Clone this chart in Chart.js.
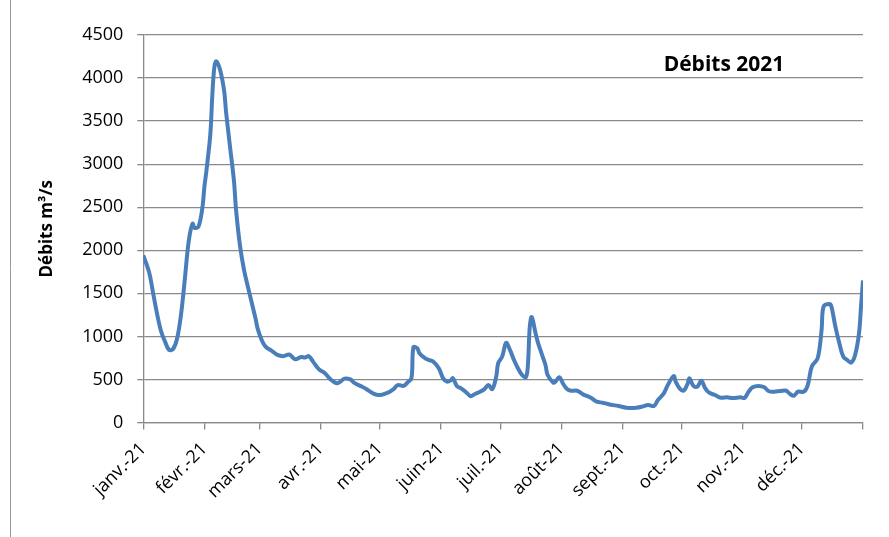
<!DOCTYPE html>
<html lang="fr">
<head>
  <meta charset="UTF-8">
  <title>Débits 2021</title>
  <script src="https://cdn.jsdelivr.net/npm/chart.js"></script>
  <style>
    body { margin: 0; background: #fff; }
  </style>
</head>
<body>
  <canvas id="debitChart" width="889" height="537"></canvas>

  <script>
    // jour de l'année (0 = 1er janvier) et débit relevé
    const jours = [
      0, 3, 5, 7, 9, 11, 13, 15, 17, 19, 21, 23, 25, 26, 28, 30, 31, 32, 34, 35,
      36, 37, 39, 41, 42, 44, 46, 47, 49, 51, 53, 55, 57, 58, 60, 62, 65, 68, 71, 74,
      77, 80, 82, 84, 86, 89, 92, 95, 98, 100, 102, 105, 107, 111, 113, 117, 120, 123, 125, 127,
      129, 132, 134, 136, 137, 139, 140, 143, 145, 147, 150, 152, 154, 156, 157, 159, 161, 164, 166, 168,
      171, 173, 175, 177, 179, 180, 182, 184, 186, 188, 190, 192, 194, 195, 196, 197, 199, 200, 202, 204,
      205, 208, 209, 211, 213, 215, 217, 220, 223, 227, 230, 233, 237, 241, 245, 250, 253, 256, 259, 261,
      264, 266, 269, 270, 272, 274, 276, 277, 279, 281, 283, 285, 287, 290, 293, 296, 299, 303, 305, 307,
      309, 312, 315, 317, 320, 323, 326, 328, 330, 332, 335, 337, 339, 342, 344, 345, 348, 349, 351, 353,
      355, 357, 359, 361, 363, 364, 365
    ];
    const debits = [
      1940, 1740, 1500, 1260, 1060, 940, 845, 850, 960, 1230, 1650, 2100, 2310, 2260, 2275, 2500, 2740, 2920, 3350, 3800,
      4120, 4195, 4090, 3850, 3600, 3200, 2800, 2480, 2060, 1780, 1580, 1390, 1200, 1090, 960, 880, 835, 785, 770, 790,
      735, 760, 755, 770, 710, 620, 575, 500, 455, 475, 510, 500, 460, 415, 390, 332, 320, 338, 358, 390,
      435, 425, 465, 515, 875, 860, 805, 745, 725, 708, 625, 515, 475, 490, 515, 425, 398, 346, 305, 328,
      360, 388, 435, 388, 535, 690, 765, 925, 840, 725, 630, 555, 525, 650, 1110, 1225, 1030, 940, 800, 665,
      555, 462, 474, 525, 447, 386, 369, 369, 327, 288, 242, 230, 207, 192, 172, 172, 184, 203, 192, 261,
      339, 435, 540, 474, 397, 369, 447, 513, 424, 416, 486, 397, 346, 319, 288, 292, 285, 292, 285, 358,
      409, 424, 409, 366, 358, 366, 369, 331, 311, 358, 358, 435, 648, 745, 1074, 1345, 1376, 1345, 1113, 920,
      764, 726, 695, 784, 1040, 1350, 1650
    ];

    // début de chaque mois et libellés de l'axe des dates
    const debutsMois = [0, 31, 59, 90, 120, 151, 181, 212, 243, 273, 304, 334, 365];
    const libellesMois = [
      'janv.-21', 'févr.-21', 'mars-21', 'avr.-21', 'mai-21', 'juin-21',
      'juil.-21', 'août-21', 'sept.-21', 'oct.-21', 'nov.-21', 'déc.-21', ''
    ];

    const graduationsY = [0, 500, 1000, 1500, 2000, 2500, 3000, 3500, 4000, 4500];

    const grisAxe = '#8a8a8a';

    // titre dans le coin haut droit + bordure gauche du graphique
    const decor = {
      id: 'decor',
      beforeDraw(chart) {
        const ctx = chart.ctx;
        ctx.save();
        ctx.strokeStyle = '#9a9a9a';
        ctx.lineWidth = 1;
        ctx.beginPath();
        ctx.moveTo(10.5, 0);
        ctx.lineTo(10.5, 537);
        ctx.stroke();
        ctx.restore();
      },
      afterDraw(chart) {
        const ctx = chart.ctx;
        ctx.save();
        ctx.font = 'bold 21px "Open Sans"';
        ctx.fillStyle = '#000';
        ctx.textAlign = 'center';
        ctx.textBaseline = 'alphabetic';
        ctx.fillText('Débits 2021', 724, 71);
        ctx.restore();
      }
    };

    const ctx = document.getElementById('debitChart').getContext('2d');
    new Chart(ctx, {
      type: 'line',
      data: {
        datasets: [{
          label: 'Débits 2021',
          data: jours.map((j, i) => ({ x: j, y: debits[i] })),
          borderColor: '#4a7ebb',
          borderWidth: 4,
          pointRadius: 0,
          tension: 0.35,
          fill: false
        }]
      },
      options: {
        responsive: false,
        animation: false,
        layout: { padding: { top: 35, right: 26, bottom: 0, left: 0 } },
        plugins: {
          legend: { display: false },
          tooltip: { enabled: false }
        },
        scales: {
          x: {
            type: 'linear',
            min: 0,
            max: 365,
            afterBuildTicks: (scale) => {
              scale.ticks = debutsMois.map(v => ({ value: v }));
            },
            afterFit: (scale) => { scale.height = 114.5; },
            grid: {
              drawOnChartArea: false,
              drawTicks: true,
              tickLength: 7,
              color: grisAxe,
              lineWidth: 1.3
            },
            border: { color: grisAxe, width: 1.3 },
            ticks: {
              autoSkip: false,
              minRotation: 45,
              maxRotation: 45,
              padding: 9,
              color: '#000',
              font: { family: '"Open Sans"', size: 18 },
              callback: (v, i) => libellesMois[i]
            }
          },
          y: {
            min: 0,
            max: 4500,
            afterBuildTicks: (scale) => {
              scale.ticks = graduationsY.map(v => ({ value: v }));
            },
            afterFit: (scale) => { scale.width = 143.3; },
            grid: {
              color: grisAxe,
              lineWidth: 1.3,
              tickLength: 6
            },
            border: { color: grisAxe, width: 1.3 },
            ticks: {
              padding: 14,
              color: '#000',
              font: { family: '"Open Sans"', size: 18 },
              callback: (v) => String(v)
            },
            title: {
              display: true,
              text: 'Débits m³/s',
              color: '#000',
              padding: { top: 37, bottom: 0 },
              font: { family: '"Open Sans"', size: 17, weight: 'bold' }
            }
          }
        }
      },
      plugins: [decor]
    });
  </script>
</body>
</html>
